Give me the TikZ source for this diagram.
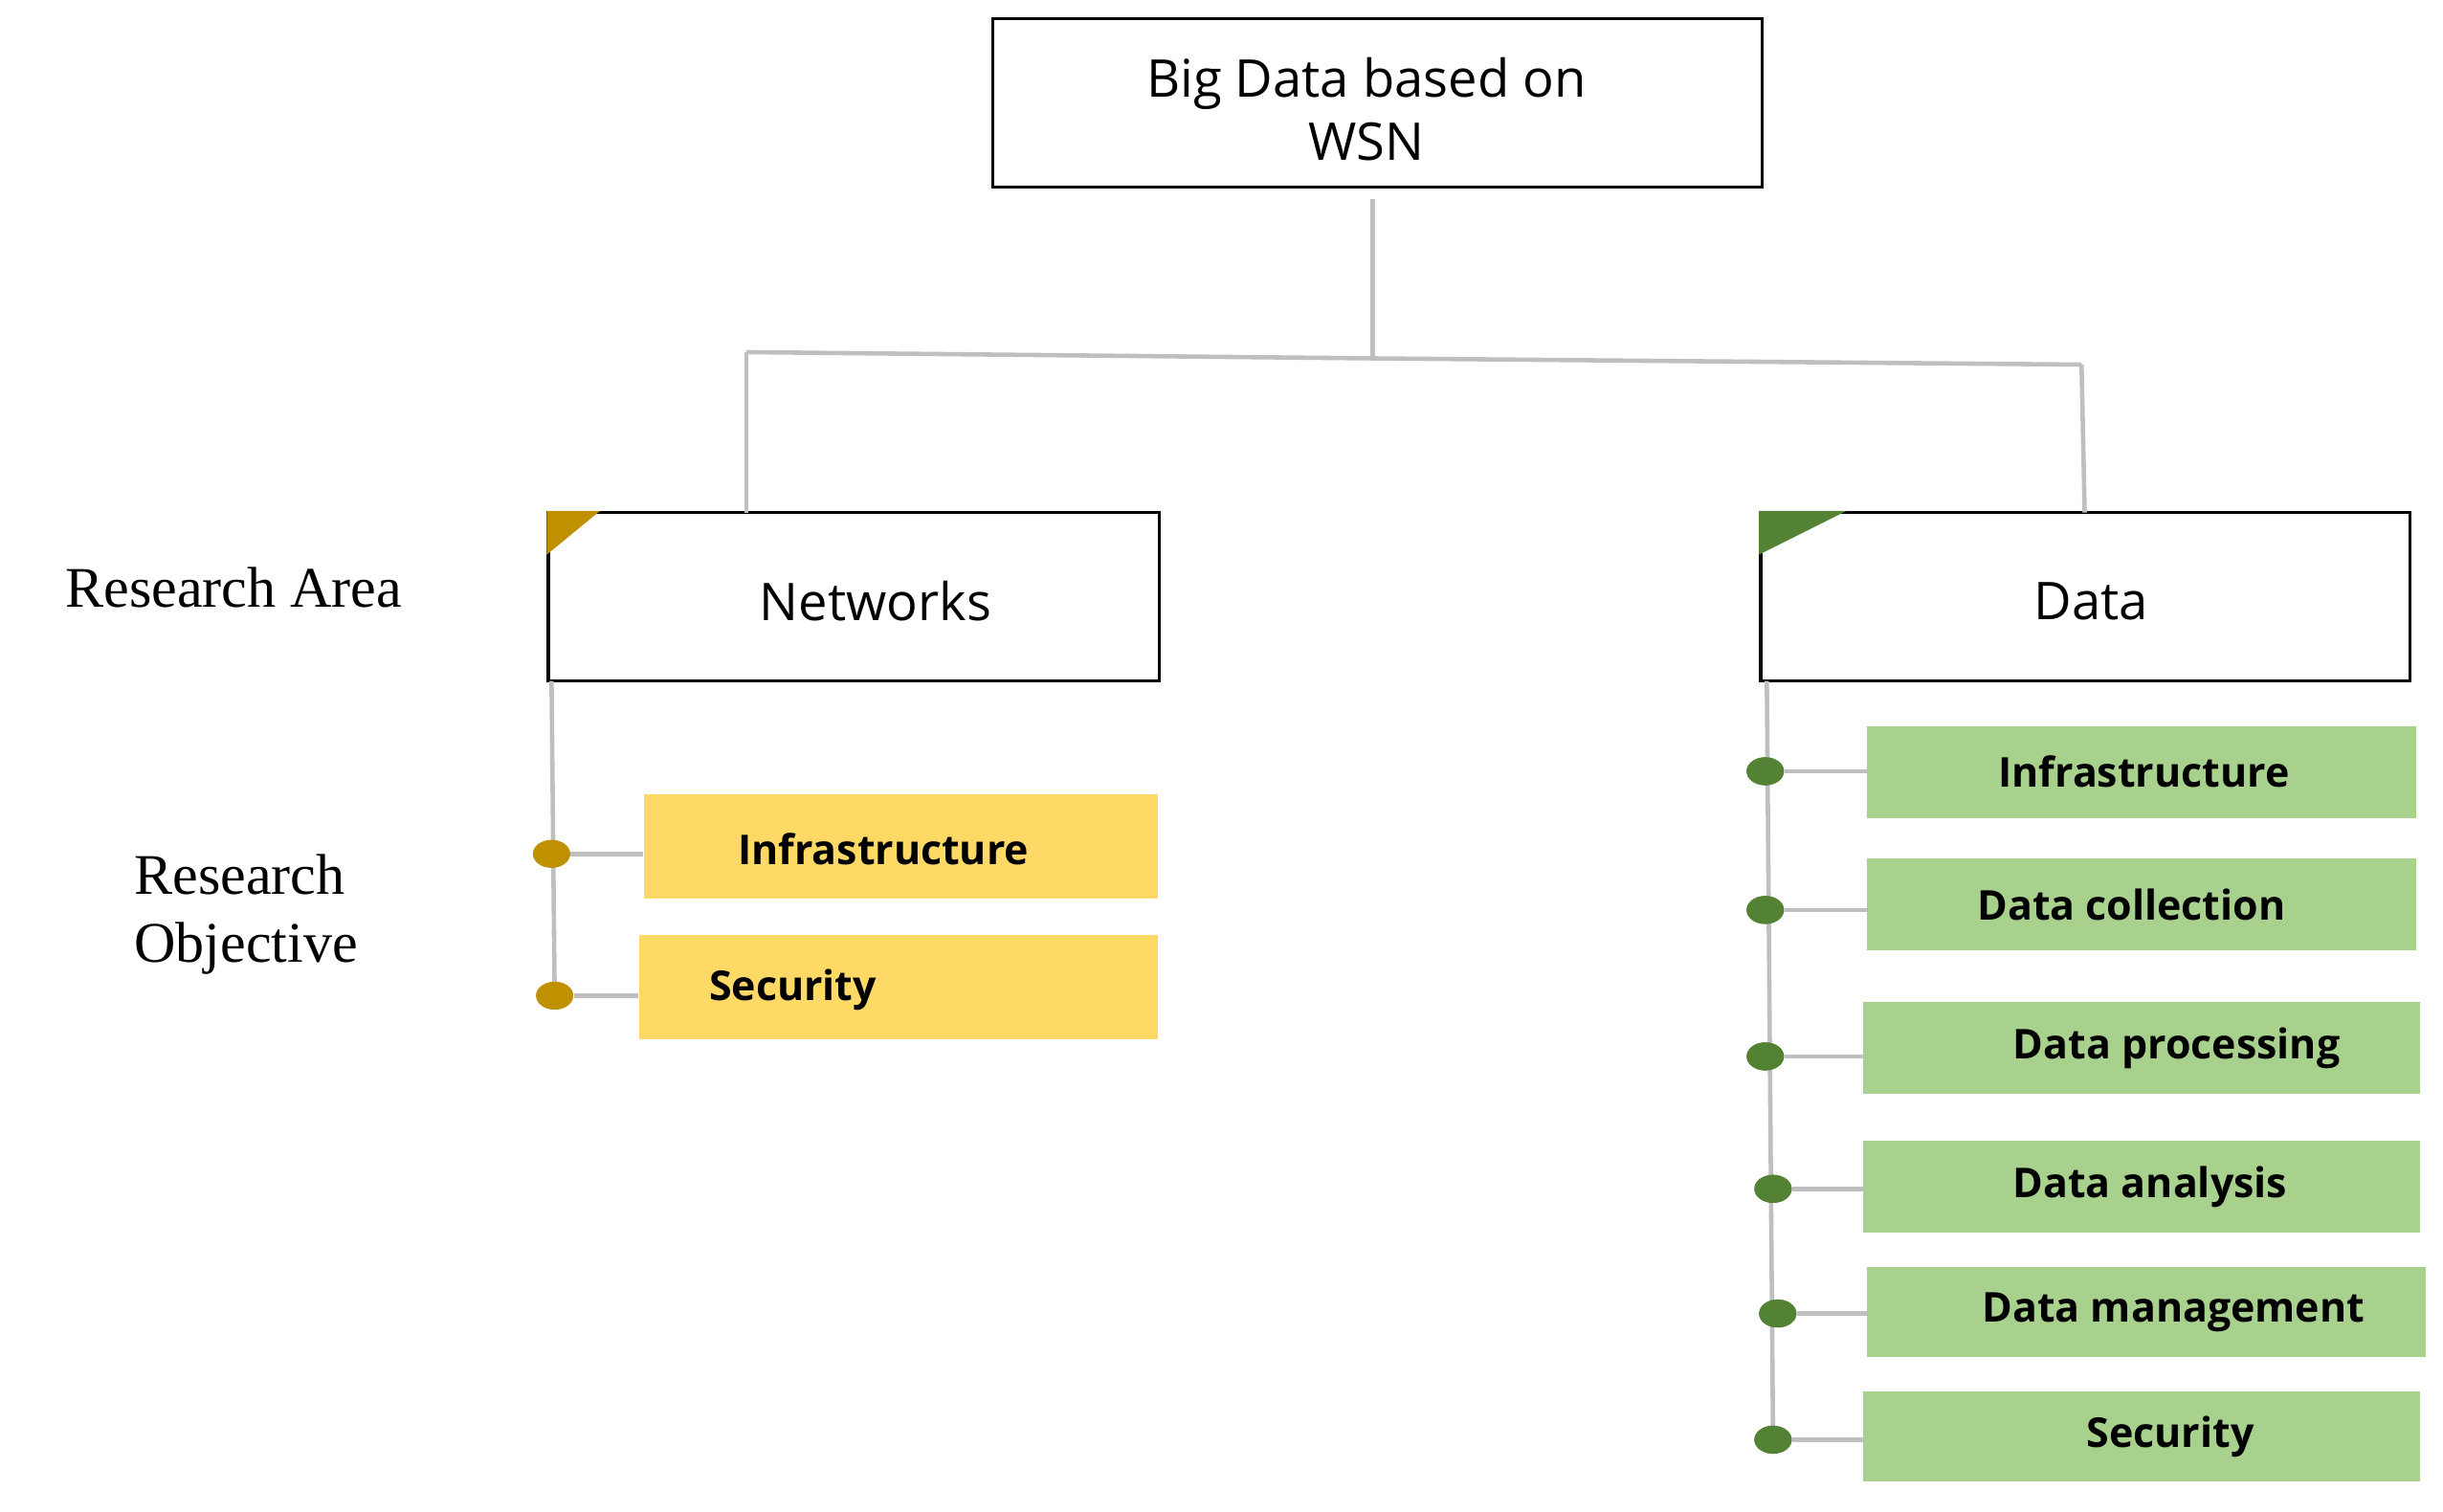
\documentclass[tikz,border=0pt]{standalone}
\usepackage{fontspec}
\setmainfont{Liberation Serif}
\newfontfamily\osans{Open Sans}
\definecolor{lgray}{HTML}{BFBFBF}
\definecolor{gold}{HTML}{BF9000}
\definecolor{yel}{HTML}{FFD966}
\definecolor{dgreen}{HTML}{548235}
\definecolor{lgreen}{HTML}{A9D18E}
\begin{document}
\begin{tikzpicture}[x=0.02cm,y=-0.02cm,
  box/.style={draw=black,line width=1.2pt,fill=white,inner sep=0pt},
  head/.style={font=\osans\fontsize{19}{23}\selectfont,align=center},
  yb/.style={fill=yel,inner sep=0pt},
  gb/.style={fill=lgreen,inner sep=0pt},
  lab/.style={font=\osans\bfseries\fontsize{15}{18}\selectfont},
  conn/.style={draw=lgray,line width=1.6pt},
  gdot/.style={ellipse,fill=gold,minimum width=0.48cm,minimum height=0.36cm,inner sep=0pt},
  ddot/.style={ellipse,fill=dgreen,minimum width=0.48cm,minimum height=0.36cm,inner sep=0pt}]
\usetikzlibrary{shapes.geometric}
\useasboundingbox (0,0) rectangle (1568,970);
% top
\node[box,minimum width=9.88cm,minimum height=2.16cm] (top) at (884,66) {};
\node[head] (toptxt) at (877,70) {Big Data based on\\WSN};
\node[box,minimum width=7.84cm,minimum height=2.16cm] (net) at (548,383) {};
\node[head] (nettxt) at (562,386) {Networks};
\node[box,minimum width=8.34cm,minimum height=2.16cm] (dat) at (1338.5,383) {};
\node[head] (dattxt) at (1342,386) {Data};
\fill[gold] (net.north west) -- ++(34,0) -- ++(-34,28) -- cycle;
\fill[dgreen] (dat.north west) -- ++(56,0) -- ++(-56,28) -- cycle;
% tree connectors
\coordinate (j) at (881,230);
\coordinate (jl) at (479,226);
\coordinate (jr) at (1336,234);
\draw[conn] (881,128) -- (j);
\draw[conn] (jl) -- (j) -- (jr);
\draw[conn] (jl) -- (479,329);
\draw[conn] (jr) -- (1338,329);
% labels
\node[font=\fontsize{21}{25}\selectfont] (ra) at (150,377) {Research Area};
\node[font=\fontsize{21}{25}\selectfont,align=left,anchor=west] (ro) at (80,587) {Research\\Objective};
% left
\draw[conn] (354,437) -- (356,639);
\node[yb,minimum width=6.6cm,minimum height=1.34cm] (y1) at (578,543.5) {};
\node[yb,minimum width=6.66cm,minimum height=1.34cm] (y2) at (576.5,633.5) {};
\node[lab] at (567,545) {Infrastructure};
\node[lab,anchor=west] at (449,635) {Security};
\node[gdot] (gd1) at (354,548) {};
\node[gdot] (gd2) at (356,639) {};
\draw[conn] (gd1) -- (y1.west |- gd1);
\draw[conn] (gd2) -- (y2.west |- gd2);
% right
\draw[conn] (1134,437) -- (1138,924);
\foreach \n/\xa/\xb/\ya/\yb/\dx/\dy/\t/\tx in {
 1/1198/1551/466/525/1133/495/Infrastructure/1376,
 2/1198/1551/551/610/1133/584/Data collection/1368,
 3/1196/1553/643/702/1133/678/Data processing/1397,
 4/1196/1553/732/791/1138/763/Data analysis/1380,
 5/1198/1557/813/871/1141/843/Data management/1395,
 6/1196/1553/893/951/1138/924/Security/1393}{
  \fill[lgreen] (\xa,\ya) rectangle (\xb,\yb);
  \node[ddot] (d\n) at (\dx,\dy) {};
  \coordinate (e\n) at (\xa,\dy);
  \draw[conn] (d\n) -- (e\n);
  \node[lab] at (\tx,{(\ya+\yb)/2}) {\t};
}
\foreach \n in {1,...,6} \node[ddot] at (d\n) {};
\end{tikzpicture}
\end{document}
